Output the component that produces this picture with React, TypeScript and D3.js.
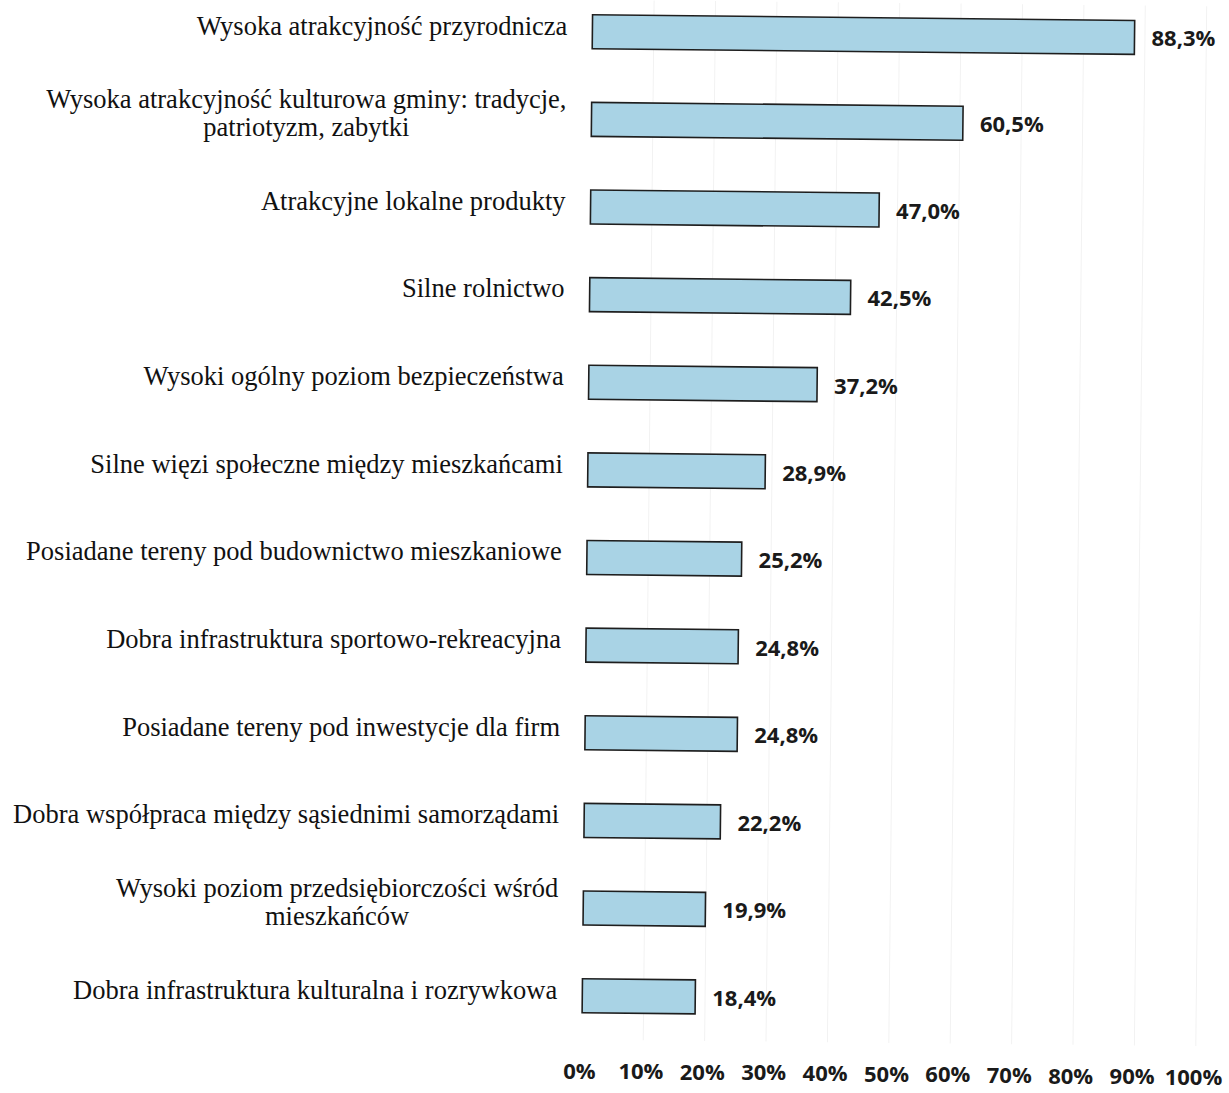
import React from "react";
import * as d3 from "d3";

const categories: string[][] = [
  ["Wysoka atrakcyjność przyrodnicza"],
  ["Wysoka atrakcyjność kulturowa gminy: tradycje,", "patriotyzm, zabytki"],
  ["Atrakcyjne lokalne produkty"],
  ["Silne rolnictwo"],
  ["Wysoki ogólny poziom bezpieczeństwa"],
  ["Silne więzi społeczne między mieszkańcami"],
  ["Posiadane tereny pod budownictwo mieszkaniowe"],
  ["Dobra infrastruktura sportowo-rekreacyjna"],
  ["Posiadane tereny pod inwestycje dla firm"],
  ["Dobra współpraca między sąsiednimi samorządami"],
  ["Wysoki poziom przedsiębiorczości wśród", "mieszkańców"],
  ["Dobra infrastruktura kulturalna i rozrywkowa"],
];
const values: number[] = [88.3, 60.5, 47.0, 42.5, 37.2, 28.9, 25.2, 24.8, 24.8, 22.2, 19.9, 18.4];
const ticks: number[] = [0, 10, 20, 30, 40, 50, 60, 70, 80, 90, 100];

const W = 1229;
const H = 1093;
const SERIF = "'Liberation Serif', 'Times New Roman', serif";
const SANS = "'Open Sans', sans-serif";

// slight tilt of the scanned page
const ANGLE = 0.6;
const PX = 614;
const PY = 546;
const rot = (px: number, py: number): [number, number] => {
  const a = (ANGLE * Math.PI) / 180;
  const dx = px - PX;
  const dy = py - PY;
  return [PX + dx * Math.cos(a) - dy * Math.sin(a), PY + dx * Math.sin(a) + dy * Math.cos(a)];
};

export default function App() {
  const x = d3.scaleLinear().domain([0, 100]).range([587, 1201]);
  const y = d3.scalePoint<number>().domain(d3.range(values.length)).range([32, 996]);
  const barH = 34;
  const fmt = (v: number) => v.toFixed(1).replace(".", ",") + "%";
  const labelRight = 562;
  const lineH = 28;
  const fontSize = 26.5;

  return (
    <svg width={W} height={H} style={{ position: "absolute", left: 0, top: 0, background: "#fff" }}>
      <rect x={0} y={0} width={W} height={H} fill="#fff" />
      <g transform={`rotate(${ANGLE}, ${PX}, ${PY})`}>
        {ticks.slice(1).map((t) => (
          <line key={t} x1={x(t)} x2={x(t)} y1={0} y2={1040} stroke="#f2f2f2" strokeWidth={1} />
        ))}
        {values.map((v, i) => {
          const cy = y(i) as number;
          return (
            <rect
              key={i}
              x={x(0)}
              y={cy - barH / 2}
              width={x(v) - x(0)}
              height={barH}
              fill="#a9d3e5"
              stroke="#1e1e1e"
              strokeWidth={1.6}
            />
          );
        })}
      </g>
      {values.map((v, i) => {
        const cy = y(i) as number;
        const [vx, vy] = rot(x(v) + 17, cy + 3);
        return (
          <text
            key={i}
            x={vx}
            y={vy}
            dominantBaseline="middle"
            fontFamily={SANS}
            fontWeight={700}
            fontSize={22}
            fill="#1a1a1a"
          >
            {fmt(v)}
          </text>
        );
      })}
      {values.map((v, i) => {
        const cy = y(i) as number;
        const lines = categories[i];
        if (lines.length === 1) {
          const [lx, ly] = rot(labelRight, cy);
          return (
            <text
              key={i}
              x={lx}
              y={ly - 3}
              textAnchor="end"
              dominantBaseline="middle"
              fontFamily={SERIF}
              fontSize={fontSize}
              fill="#111"
            >
              {lines[0]}
            </text>
          );
        }
        const [lx, ly] = rot(labelRight, cy);
        return <MultiLabel key={i} lines={lines} right={lx} cy={ly - 3} lineH={lineH} fontSize={fontSize} />;
      })}
      {ticks.map((t) => {
        const [tx, ty] = rot(x(t) - 2, 1073);
        return (
          <text
            key={t}
            x={tx}
            y={ty}
            textAnchor="middle"
            dominantBaseline="middle"
            fontFamily={SANS}
            fontWeight={700}
            fontSize={22}
            fill="#1a1a1a"
          >
            {t}%
          </text>
        );
      })}
    </svg>
  );
}

function MultiLabel({
  lines,
  right,
  cy,
  lineH,
  fontSize,
}: {
  lines: string[];
  right: number;
  cy: number;
  lineH: number;
  fontSize: number;
}) {
  const ref = React.useRef<SVGTextElement>(null);
  React.useLayoutEffect(() => {
    const t = ref.current;
    if (!t) return;
    const spans = Array.from(t.querySelectorAll("tspan")) as SVGTSpanElement[];
    const widths = spans.map((s) => s.getComputedTextLength());
    const maxW = Math.max(...widths);
    const center = right - maxW / 2;
    spans.forEach((s) => s.setAttribute("x", String(center)));
  }, [lines, right]);
  const top = cy - ((lines.length - 1) * lineH) / 2;
  return (
    <text
      ref={ref}
      y={top}
      textAnchor="middle"
      dominantBaseline="middle"
      fontFamily={SERIF}
      fontSize={fontSize}
      fill="#111"
    >
      {lines.map((l, k) => (
        <tspan key={k} x={right} y={top + k * lineH}>
          {l}
        </tspan>
      ))}
    </text>
  );
}
